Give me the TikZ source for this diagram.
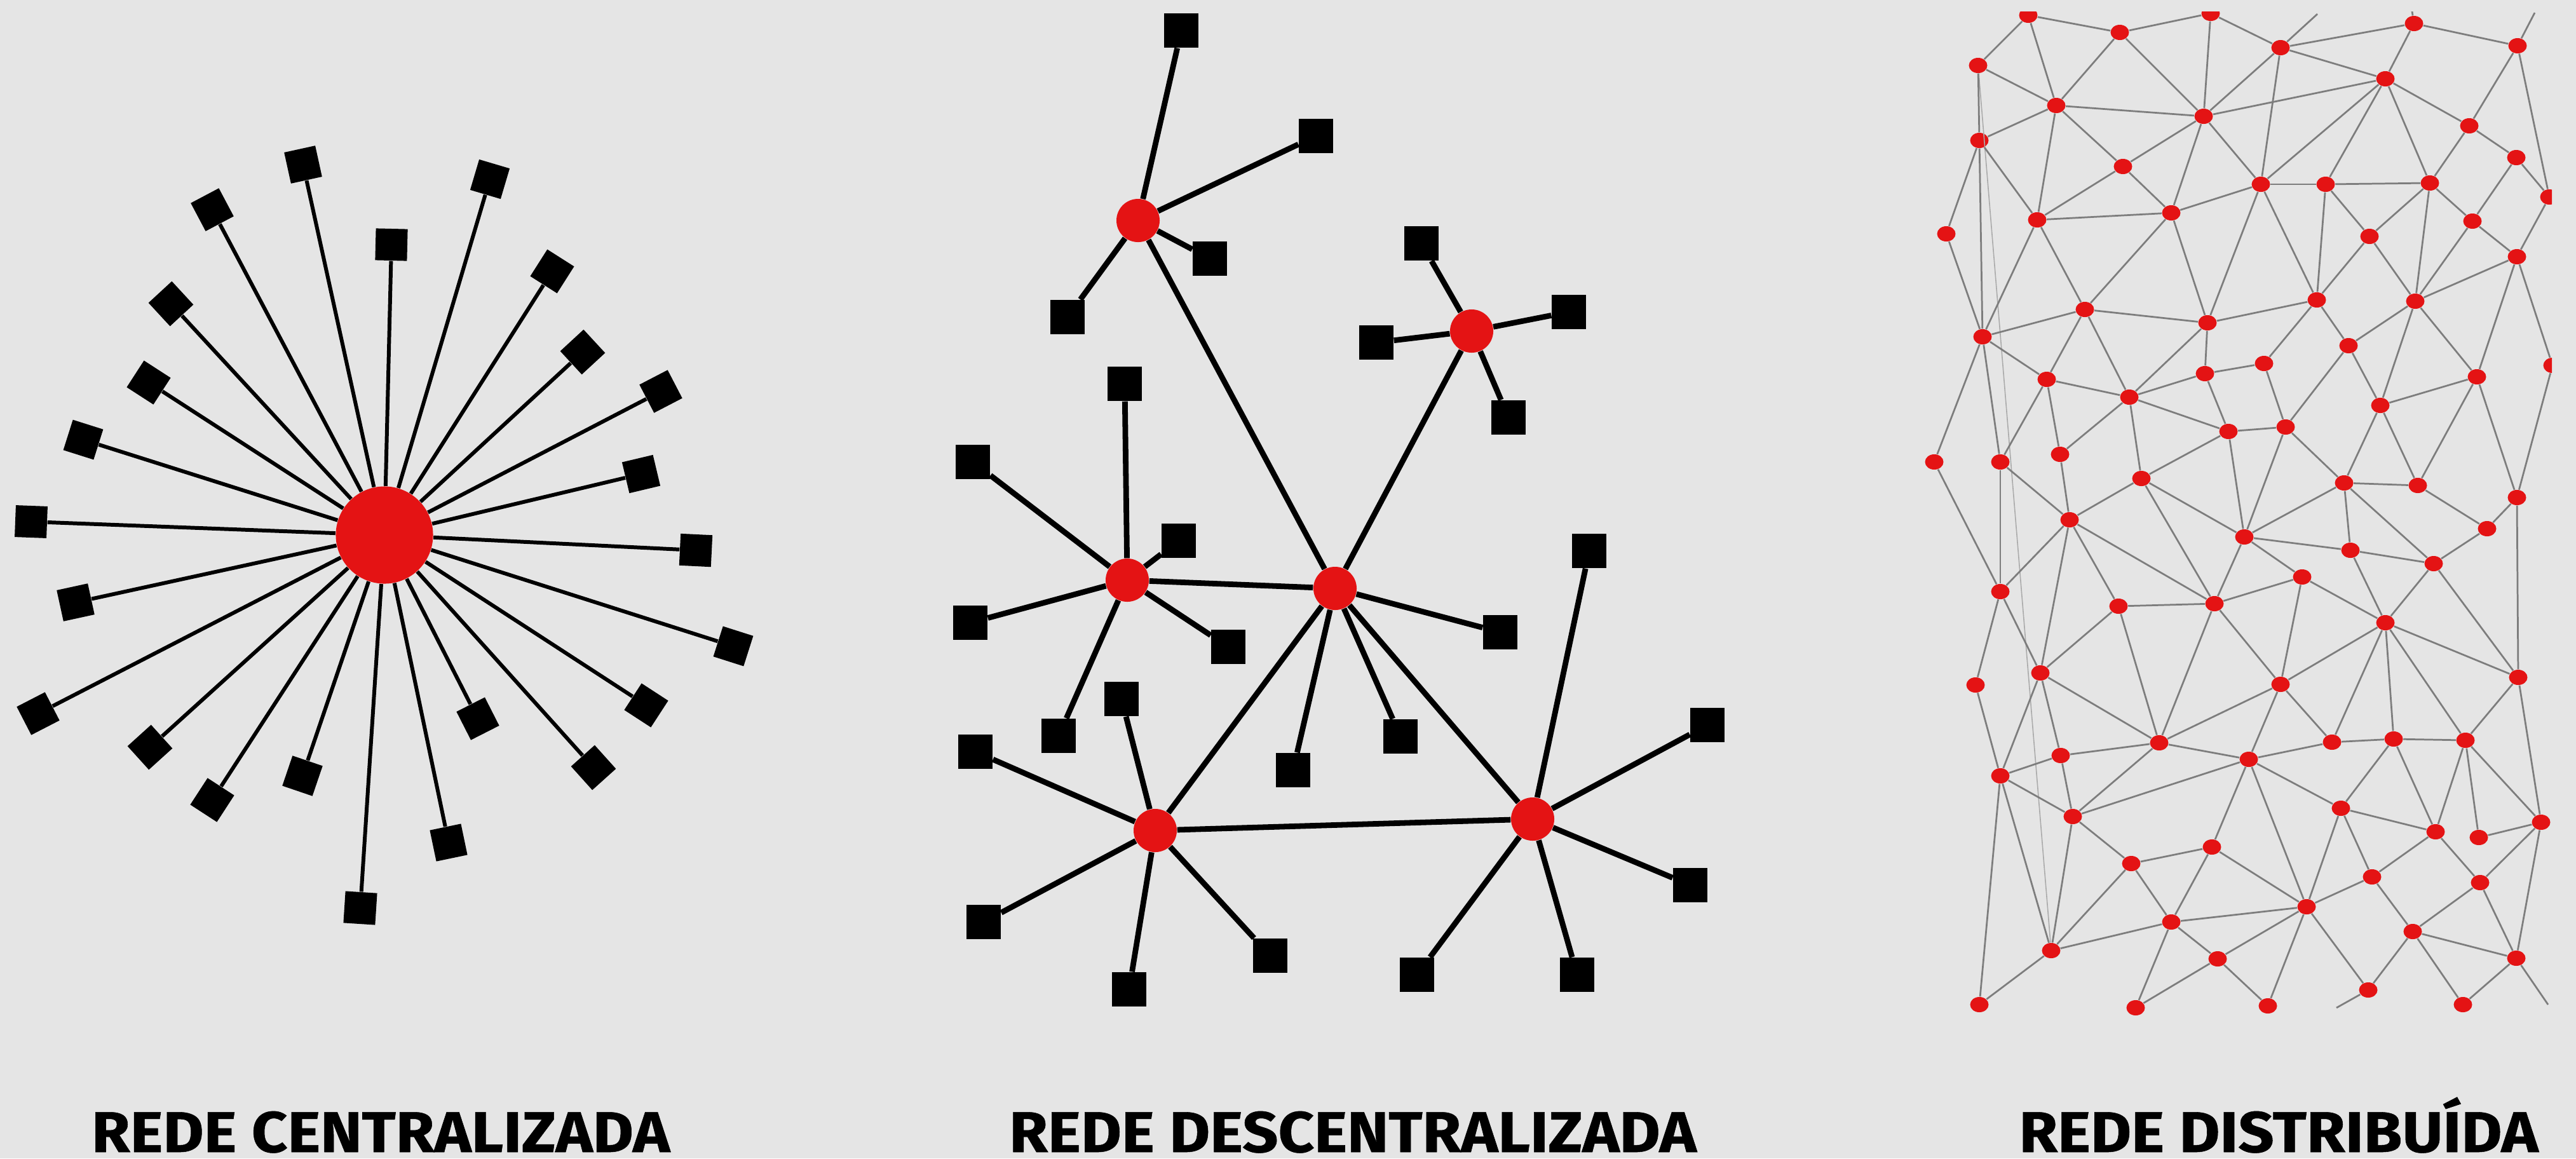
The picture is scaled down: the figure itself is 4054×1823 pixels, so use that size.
\documentclass[tikz,border=0pt]{standalone}
\usepackage{fontspec}
\usetikzlibrary{calc,shapes.geometric}
\newfontfamily\labelfont{Fira Sans}[FakeStretch=1.09,BoldFeatures={FakeBold=0.6}]
\definecolor{bggray}{RGB}{229,229,229}
\definecolor{hubred}{RGB}{228,19,20}
\definecolor{meshgray}{RGB}{125,125,125}
\definecolor{faintgray}{RGB}{170,170,170}
\begin{document}
\begin{tikzpicture}[x=0.01cm,y=-0.01cm,
  hub/.style={circle,fill=hubred,inner sep=0pt,minimum size=1.53cm},
  csq/.style={rectangle,fill=black,inner sep=0pt,minimum size=0.5cm},
  cspoke/.style={line width=1.7pt},
  dhub/.style={circle,fill=hubred,inner sep=0pt,minimum size=0.68cm},
  dsq/.style={rectangle,fill=black,inner sep=0pt,minimum size=0.54cm},
  dspoke/.style={line width=2.5pt},
  mnode/.style={ellipse,fill=hubred,inner sep=0pt,minimum width=0.29cm,minimum height=0.24cm},
  medge/.style={meshgray,line width=0.78pt},
  mfaint/.style={faintgray,line width=0.45pt},
  caption/.style={anchor=base,inner sep=0pt,font=\labelfont\bfseries\fontsize{25.7pt}{26pt}\selectfont}
]
% canvas
\fill[bggray] (0,0) rectangle (4054,1823);
\useasboundingbox (0,0) rectangle (4054,1823);

% ---------- centralised network ----------
\node[hub] (hub) at (605,842) {};
\foreach \i/\a/\b in {1/477/259,2/771/282,3/334/330,4/616/385,5/869/427,6/269/478,
  7/917/554,8/234/602,9/1040/616,10/131/692,11/1009/746,12/49/821,13/1095/866,
  14/119/948,15/1154/1017,16/60/1123,17/1017/1110,18/752/1131,19/236/1176,
  20/934/1208,21/476/1221,22/334/1259,23/706/1326,24/567/1429}{
  \path let \p1=($(\a,\b)-(hub)$), \n1={atan2(\y1,\x1)} in
    node[csq,rotate=\n1] (cs\i) at (\a,\b) {};
  \draw[cspoke] (hub) -- (cs\i);
}

% ---------- decentralised network ----------
\node[dhub] (h1) at (1791,347) {};
\node[dhub] (h2) at (2316,521) {};
\node[dhub] (h3) at (1774,913) {};
\node[dhub] (h4) at (2101,926) {};
\node[dhub] (h5) at (1818,1307) {};
\node[dhub] (h6) at (2412,1289) {};
\foreach \u/\v in {h1/h4,h2/h4,h3/h4,h4/h5,h4/h6,h5/h6}
  \draw[dspoke] (\u) -- (\v);
\foreach \h/\i/\a/\b in {1/1/1859/48,1/2/2071/214,1/3/1904/407,1/4/1680/499,
  2/1/2237/383,2/2/2469/491,2/3/2166/539,2/4/2374/657,
  3/1/1770/604,3/2/1531/727,3/3/1855/851,3/4/1527/980,3/5/1933/1018,3/6/1666/1158,
  4/1/2361/995,4/2/2204/1159,4/3/2035/1212,
  5/1/1765/1100,5/2/1535/1183,5/3/1548/1451,5/4/1999/1504,5/5/1777/1557,
  6/1/2501/867,6/2/2687/1141,6/3/2660/1393,6/4/2230/1534,6/5/2482/1534}{
  \node[dsq] (q\h-\i) at (\a,\b) {};
  \draw[dspoke] (h\h) -- (q\h-\i);
}

% ---------- distributed network ----------
\begin{scope}
\clip (2900,18) rectangle (4016,1700);
\foreach \nm/\a/\b in {a1/3192/24,a2/3336/51,a3/3479/21,a4/3113/103,a5/3236/166,
  a6/3468/183,a7/3115/221,a8/3341/262,a9/3558/290,a10/3206/346,a11/3417/335,
  a12/3063/368,a13/3281/487,a14/3474/508,a15/3120/530,
  b1/3589/75,b2/3799/37,b3/3754/124,b4/3962/72,b5/3886/198,b6/3960/248,
  b7/4012/310,b9/3660/290,b10/3824/288,b11/3891/348,b12/3729/372,b13/3961/404,
  b14/3646/472,b15/3801/474,b16/3696/544,
  c2/3221/597,c3/3351/625,c4/3470/588,c5/3563/572,c6/3507/679,c7/3044/727,
  c8/3148/727,c9/3242/715,c10/3370/753,c11/3257/818,c12/3532/845,c13/3148/931,
  c14/3334/954,c15/3485/950,c16/3211/1059,c17/3109/1078,
  d3/4017/575,d4/3898/593,d5/3746/638,d6/3597/672,d8/3689/760,d9/3805/764,
  d10/3961/783,d11/3914/832,d13/3699/866,d14/3830/887,d15/3623/908,d16/3754/980,
  d17/3589/1077,d18/3963/1066,
  e3/3398/1169,e4/3243/1189,e5/3148/1221,e6/3539/1195,e7/3262/1285,e8/3481/1333,
  e9/3354/1359,e10/3417/1451,e11/3228/1496,e12/3490/1509,e13/3115/1581,e14/3361/1586,
  f4/3670/1168,f5/3767/1163,f6/3880/1165,f7/3684/1272,f8/3833/1309,f9/3901/1318,
  f10/3999/1294,f11/3733/1380,f12/3903/1389,f13/3630/1427,f14/3797/1466,
  f15/3960/1508,f17/3569/1583,f18/3727/1558,f19/3876/1581}
  \node[mnode] (\nm) at (\a,\b) {};
% loose ends leaving the mesh
\coordinate (t1) at (3647,22);
\coordinate (t2) at (3796,18);
\coordinate (t3) at (3989,20);
\coordinate (u1) at (3677,1586);
\coordinate (u2) at (4010,1581);
\draw[mfaint] (a4) -- (e11);
\foreach \u/\v in {a1/a2,a1/a4,a1/a5,a2/a3,a2/a5,a2/a6,a3/a6,a3/b1,a4/a5,a4/a7,
  a5/a6,a5/a7,a5/a8,a5/a10,a6/a8,a6/a9,a6/a11,a6/b1,a6/b3,a7/a10,a7/a12,a7/a15,
  a8/a10,a8/a11,a9/a11,a9/a14,a9/b1,a9/b3,a9/b9,a9/b14,a10/a11,a10/a13,a10/a15,
  a11/a13,a11/a14,a12/a15,a13/a14,a13/a15,a13/c2,a13/c3,a14/b14,a14/c3,a14/c4,
  a15/c2,a15/c7,a15/c8,
  b1/b2,b1/b3,b1/t1,b2/b3,b2/b4,b2/t2,b3/b5,b3/b9,b3/b10,b4/b5,b4/b7,b4/t3,
  b5/b6,b5/b10,b6/b7,b6/b11,b7/b13,b9/b10,b9/b12,b9/b14,b10/b11,b10/b12,b10/b15,
  b11/b13,b11/b15,b12/b14,b12/b15,b13/b15,b13/d3,b13/d4,b14/b16,b14/c5,
  b15/b16,b15/d4,b15/d5,b16/d5,b16/d6,
  c2/c3,c2/c8,c2/c9,c3/c4,c3/c6,c3/c9,c3/c10,c4/c5,c4/c6,c5/d6,c6/c10,c6/c12,
  c6/d6,c7/c13,c8/c11,c8/c13,c9/c11,c10/c11,c10/c12,c10/c15,c11/c13,c11/c14,
  c11/c15,c11/c16,c12/c15,c12/d6,c12/d8,c12/d13,c12/d15,c13/c16,c13/c17,
  c14/c15,c14/c16,c14/e3,c15/d15,c15/d17,c15/e3,c16/e3,c16/e4,c16/e5,c17/e5,
  d3/d10,d4/d5,d4/d9,d4/d10,d5/d8,d5/d9,d6/d8,d8/d9,d8/d13,d8/d14,d9/d11,
  d10/d11,d10/d18,d11/d14,d13/d14,d13/d16,d14/d16,d14/d18,d15/d16,d15/d17,
  d16/d17,d16/d18,d16/f4,d16/f5,d16/f6,d17/e3,d17/e6,d17/f4,d18/f6,d18/f10,
  e3/e4,e3/e6,e3/e7,e4/e5,e4/e7,e5/e7,e5/e11,e5/e13,e6/e7,e6/e8,e6/f4,e6/f7,
  e6/f13,e7/e9,e7/e11,e8/e9,e8/e10,e8/f13,e9/e10,e9/e11,e10/e11,e10/e12,
  e10/e14,e10/f13,e11/e13,e12/e14,e12/f13,e12/f17,
  f4/f5,f5/f6,f5/f7,f5/f8,f6/f8,f6/f9,f6/f10,f7/f8,f7/f11,f7/f13,f8/f11,f8/f12,
  f9/f10,f10/f12,f10/f15,f11/f13,f11/f14,f12/f14,f12/f15,f13/f17,f13/f18,
  f14/f15,f14/f18,f14/f19,f15/f19,f15/u2,f18/u1}
  \draw[medge] (\u) -- (\v);
\end{scope}

% ---------- captions ----------
\node[caption] (capc) at (599,1813) {REDE CENTRALIZADA};
\node[caption] (capd) at (2129,1813) {REDE DESCENTRALIZADA};
\node[caption] (capr) at (3586,1813) {REDE DISTRIBUÍDA};
\end{tikzpicture}
\end{document}
